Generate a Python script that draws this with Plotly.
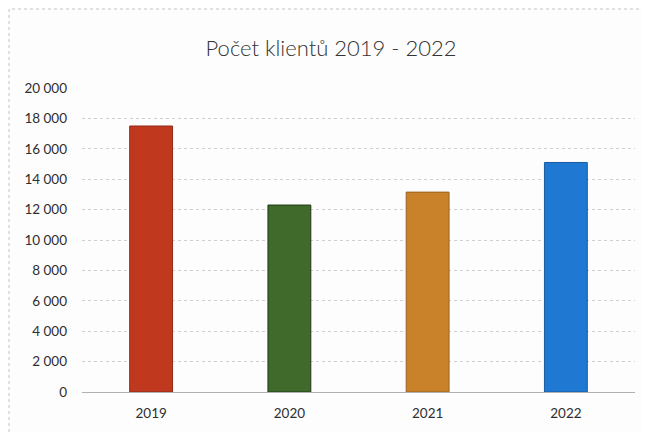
import plotly.graph_objects as go

years = ["2019", "2020", "2021", "2022"]
clients = [17500, 12300, 13150, 15100]
bar_colors = ["#C0391F", "#3F6A2C", "#C98229", "#1F78D1"]
edge_colors = ["#8E2A17", "#1F3A14", "#9A6220", "#175CA0"]
y_ticks = [0, 2000, 4000, 6000, 8000, 10000, 12000, 14000, 16000, 18000, 20000]
y_tick_labels = ["0", "2 000", "4 000", "6 000", "8 000", "10 000", "12 000",
                 "14 000", "16 000", "18 000", "20 000"]

W, H = 650, 432
L, R, T, B = 74, 23, 80, 48
PW, PH = W - L - R, H - T - B

fig = go.Figure(go.Bar(
    x=years, y=clients,
    marker=dict(color=bar_colors, line=dict(color=edge_colors, width=1)),
    width=0.31,
))

fig.update_layout(
    width=W, height=H,
    margin=dict(l=L, r=R, t=T, b=B),
    paper_bgcolor="#FDFDFD", plot_bgcolor="#FDFDFD",
    font=dict(family="Lato, Open Sans, sans-serif", color="#2e2e2e", size=13),
    title=dict(text="Počet klientů 2019 - 2022", x=323 / W, xanchor="center",
               y=1 - 40 / H, yanchor="middle",
               font=dict(size=22, color="#333333", weight=300)),
    showlegend=False,
)
fig.update_xaxes(showgrid=False, showline=False, ticks="", ticklabelstandoff=11,
                 tickfont=dict(size=13.5))
fig.update_yaxes(range=[0, 20000], tickvals=y_ticks, ticktext=y_tick_labels,
                 showgrid=True, gridcolor="#CFCFCF", gridwidth=1, griddash="dot",
                 zeroline=True, zerolinecolor="#B0B0B0", zerolinewidth=1,
                 showline=False, ticks="", ticklabelstandoff=14, tickfont=dict(size=13.5))
fig.add_shape(type="rect", xref="paper", yref="paper",
              x0=-(L - 1) / PW, x1=1 + (R - 3) / PW, y0=-(B + 5) / PH, y1=1 + (T - 1) / PH,
              line=dict(color="#C4C4C4", width=1, dash="dot"), fillcolor="rgba(0,0,0,0)")
fig.write_html("out.html")
